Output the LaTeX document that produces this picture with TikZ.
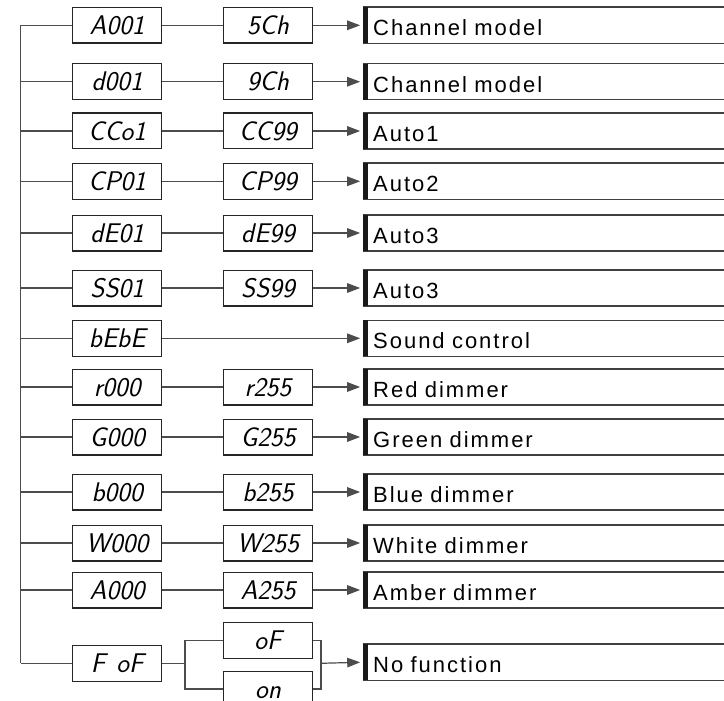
\documentclass[tikz,border=0pt]{standalone}
\usepackage{fontspec}
\usetikzlibrary{arrows.meta}
\newfontfamily\labfont{Liberation Sans}[LetterSpace=9]
\begin{document}
\begin{tikzpicture}[x=1pt,y=-1pt,
  seg/.style={draw=black!85, line width=1.3pt, minimum width=89pt, minimum height=35.7pt,
    inner sep=0pt, text height=18pt, text depth=0pt,
    font=\fontsize{27}{27}\selectfont\sffamily\slshape},
  conn/.style={draw=black!70, line width=1.2pt},
  arr/.style={conn, -{Triangle[length=13pt,width=9.5pt]}, shorten >=2.5pt},
  lab/.style={anchor=west, minimum height=35.7pt, inner ysep=0pt, inner xsep=10.3pt,
    text width=360pt, align=left, text height=21.2pt, text depth=0pt,
    font=\fontsize{22}{22}\selectfont\labfont},
  labline/.style={draw=black!75, line width=1.5pt}
]
\useasboundingbox (0,0) rectangle (724,701);
\clip (0,0) rectangle (724,701);
\coordinate (t1) at (20.7,25.3);
\coordinate (t2) at (20.7,663.3);
\draw[conn] (t1) -- (t2);
\foreach \i/\y/\a/\b/\t in {
  1/25.3/A001/5Ch/Channel model,
  2/81.7/d001/9Ch/Channel model,
  3/131/CCo1/CC99/Auto1,
  4/181.3/CP01/CP99/Auto2,
  5/233/dE01/dE99/Auto3,
  6/288/SS01/SS99/Auto3,
  8/387/r000/r255/Red dimmer,
  9/437/G000/G255/Green dimmer,
  10/492/b000/b255/Blue dimmer,
  11/543/W000/W255/White dimmer,
  12/590/A000/A255/Amber dimmer}{
  \node[seg] (a\i) at (117.2,\y) {\a};
  \node[seg] (b\i) at (268,\y) {\b};
  \node[lab] (l\i) at (362.7,\y) {\t};
  \draw[conn] (a\i.west -| t1) -- (a\i.west);
  \draw[conn] (a\i.east) -- (b\i.west);
  \draw[arr] (b\i.east) -- (l\i.west);
}
% row 7
\node[seg] (a7) at (117.2,338.3) {bEbE};
\node[lab] (l7) at (362.7,338.3) {Sound control};
\draw[conn] (a7.west -| t1) -- (a7.west);
\draw[arr] (a7.east) -- (l7.west);
% row 13
\node[seg] (a13) at (117.2,663.3) {F\hspace{11pt}oF};
\node[seg] (of) at (268,640.5) {oF};
\node[seg] (on) at (268,689) {on};
\node[lab] (l13) at (362.7,662.2) {No function};
\coordinate (fj) at (185,663.3);
\coordinate (rj) at (321,663.3);
\draw[conn] (t2) -- (a13.west);
\draw[conn] (a13.east) -- (fj);
\draw[conn] (of.west) -| (fj) |- (on.west);
\draw[conn] (of.east) -| (rj) |- (on.east);
\draw[arr] (rj) -- (l13.west);
% label boxes
\foreach \i in {1,2,3,4,5,6,7,8,9,10,11,12,13}{
  \draw[labline] (l\i.north west) -- ([xshift=30pt]l\i.north east);
  \draw[labline] (l\i.south west) -- ([xshift=30pt]l\i.south east);
  \fill[black!90] (l\i.north west) rectangle ([xshift=5.6pt]l\i.south west);
}
\end{tikzpicture}
\end{document}
